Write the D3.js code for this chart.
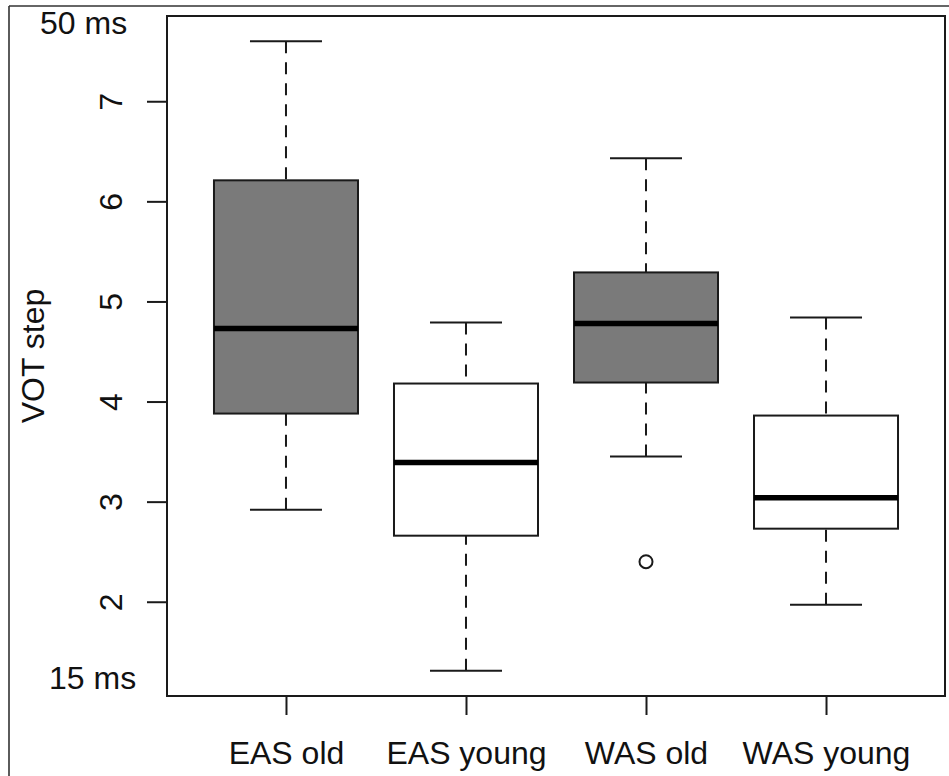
<!DOCTYPE html>
<html>
<head>
<meta charset="utf-8">
<script src="https://cdn.jsdelivr.net/npm/d3@7"></script>
<style>
  html, body { margin: 0; padding: 0; background: #fff; }
  text { font-family: "Liberation Sans", Arial, sans-serif; fill: #111; }
</style>
</head>
<body>
<svg id="chart" width="949" height="776"></svg>
<script>
// ---- data ----
const categories = ["EAS old", "EAS young", "WAS old", "WAS young"];
const lowerWhisker = [2.92, 1.31, 3.45, 1.97];
const q1Values     = [3.88, 2.66, 4.19, 2.73];
const medians      = [4.73, 3.39, 4.78, 3.04];
const q3Values     = [6.21, 4.18, 5.29, 3.86];
const upperWhisker = [7.60, 4.79, 6.43, 4.84];
const fills        = ["#7a7a7a", "#ffffff", "#7a7a7a", "#ffffff"];
const outliers     = [{cat: "WAS old", value: 2.40}];
const yTicks       = [2, 3, 4, 5, 6, 7];
const yLabel       = "VOT step";
const topNote      = "50 ms";
const bottomNote   = "15 ms";

const boxes = categories.map((c, i) => ({
  cat: c, lo: lowerWhisker[i], q1: q1Values[i], med: medians[i],
  q3: q3Values[i], hi: upperWhisker[i], fill: fills[i]
}));

// ---- layout ----
const svg = d3.select("#chart");
const plot = {left: 167, right: 945, top: 16, bottom: 696};
const ink = "#1a1a1a";
const fs = "32px";

// R-style 4% range extension
const dMin = d3.min(lowerWhisker.concat(outliers.map(o => o.value)));
const dMax = d3.max(upperWhisker);
const ext = (dMax - dMin) * 0.04;

const x = d3.scalePoint().domain(categories)
  .range([plot.left, plot.right]).padding(0.661);
const y = d3.scaleLinear().domain([dMin - ext, dMax + ext])
  .range([plot.bottom, plot.top]);
const step = x.step();
const halfBox = step * 0.4;
const halfCap = step * 0.2;

// outer frame (top and left edges visible)
svg.append("line").attr("x1", 9).attr("x2", 949).attr("y1", 6).attr("y2", 6)
  .attr("stroke", "#333").attr("stroke-width", 1.6);
svg.append("line").attr("x1", 9).attr("x2", 9).attr("y1", 6).attr("y2", 776)
  .attr("stroke", "#333").attr("stroke-width", 1.6);

const g = svg.append("g");

// whiskers (dashed, drawn from whisker end to box)
g.selectAll(".wl").data(boxes).join("line")
  .attr("x1", d => x(d.cat)).attr("x2", d => x(d.cat))
  .attr("y1", d => y(d.lo)).attr("y2", d => y(d.q1))
  .attr("stroke", ink).attr("stroke-width", 2).attr("stroke-dasharray", "12,9");
g.selectAll(".wu").data(boxes).join("line")
  .attr("x1", d => x(d.cat)).attr("x2", d => x(d.cat))
  .attr("y1", d => y(d.hi)).attr("y2", d => y(d.q3))
  .attr("stroke", ink).attr("stroke-width", 2).attr("stroke-dasharray", "12,9");

// caps
g.selectAll(".cl").data(boxes).join("line")
  .attr("x1", d => x(d.cat) - halfCap).attr("x2", d => x(d.cat) + halfCap)
  .attr("y1", d => y(d.lo)).attr("y2", d => y(d.lo))
  .attr("stroke", ink).attr("stroke-width", 2);
g.selectAll(".cu").data(boxes).join("line")
  .attr("x1", d => x(d.cat) - halfCap).attr("x2", d => x(d.cat) + halfCap)
  .attr("y1", d => y(d.hi)).attr("y2", d => y(d.hi))
  .attr("stroke", ink).attr("stroke-width", 2);

// boxes
g.selectAll(".box").data(boxes).join("rect")
  .attr("x", d => x(d.cat) - halfBox).attr("width", halfBox * 2)
  .attr("y", d => y(d.q3)).attr("height", d => y(d.q1) - y(d.q3))
  .attr("fill", d => d.fill).attr("stroke", ink).attr("stroke-width", 2);

// medians
g.selectAll(".med").data(boxes).join("line")
  .attr("x1", d => x(d.cat) - halfBox).attr("x2", d => x(d.cat) + halfBox)
  .attr("y1", d => y(d.med)).attr("y2", d => y(d.med))
  .attr("stroke", "#000").attr("stroke-width", 5.5);

// outliers
g.selectAll(".out").data(outliers).join("circle")
  .attr("cx", d => x(d.cat)).attr("cy", d => y(d.value)).attr("r", 6.5)
  .attr("fill", "none").attr("stroke", ink).attr("stroke-width", 2);

// plot frame
svg.append("rect").attr("x", plot.left).attr("y", plot.top)
  .attr("width", plot.right - plot.left).attr("height", plot.bottom - plot.top)
  .attr("fill", "none").attr("stroke", ink).attr("stroke-width", 2);

// y axis
const yAxis = svg.append("g").attr("transform", `translate(${plot.left},0)`)
  .call(d3.axisLeft(y).tickValues(yTicks).tickSize(20).tickSizeOuter(0).tickFormat(d3.format("d")));
yAxis.select(".domain").remove();
yAxis.selectAll(".tick line").attr("stroke", ink).attr("stroke-width", 2);
yAxis.selectAll(".tick text")
  .attr("x", null).attr("dy", null).attr("y", null)
  .attr("transform", "translate(-45,0) rotate(-90)")
  .attr("text-anchor", "middle")
  .style("font-size", fs).style("font-family", "'Liberation Sans', Arial, sans-serif")
  .attr("fill", "#111");

// x axis
const xAxis = svg.append("g").attr("transform", `translate(0,${plot.bottom})`)
  .call(d3.axisBottom(x).tickSize(19).tickSizeOuter(0));
xAxis.select(".domain").remove();
xAxis.selectAll(".tick line").attr("stroke", ink).attr("stroke-width", 2);
xAxis.selectAll(".tick text")
  .attr("y", 68).attr("dy", null)
  .attr("text-anchor", "middle")
  .style("font-size", fs).style("font-family", "'Liberation Sans', Arial, sans-serif")
  .attr("fill", "#111");

// y label
svg.append("text")
  .attr("transform", `translate(44,${(plot.top + plot.bottom) / 2}) rotate(-90)`)
  .attr("text-anchor", "middle").style("font-size", fs)
  .text(yLabel);

// ms annotations
svg.append("text").attr("x", 40).attr("y", 34).style("font-size", fs).text(topNote);
svg.append("text").attr("x", 49).attr("y", 689).style("font-size", fs).text(bottomNote);
</script>
</body>
</html>
